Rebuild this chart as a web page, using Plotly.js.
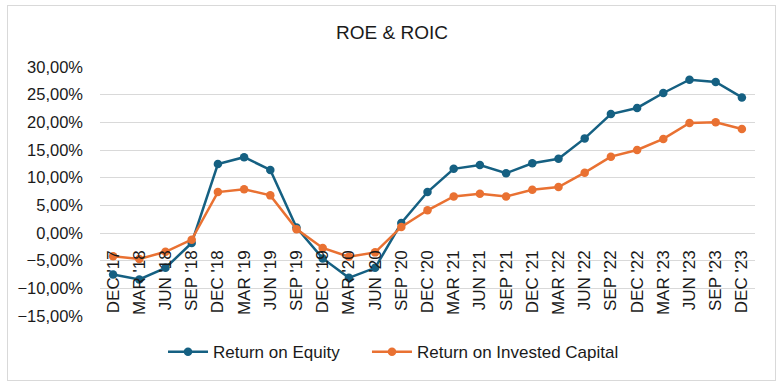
<!DOCTYPE html>
<html>
<head>
<meta charset="utf-8">
<script src="https://cdn.plot.ly/plotly-3.0.1.min.js"></script>
<style>
  html, body { margin: 0; padding: 0; background: #ffffff; }
  #frame { position: absolute; left: 7px; top: 5px; width: 767px; height: 374px; border: 1px solid #d9d9d9; }
  #chart { position: absolute; left: 0; top: 0; width: 784px; height: 385px; }
</style>
</head>
<body>
<div id="frame"></div>
<div id="chart"></div>
<script>
const quarters = ["DEC '17","MAR '18","JUN '18","SEP '18","DEC '18","MAR '19","JUN '19","SEP '19","DEC '19","MAR '20","JUN '20","SEP '20","DEC '20","MAR '21","JUN '21","SEP '21","DEC '21","MAR '22","JUN '22","SEP '22","DEC '22","MAR '23","JUN '23","SEP '23","DEC '23"];
const roe = [-7.5,-8.4,-6.3,-1.8,12.45,13.7,11.4,1.0,-4.6,-8.1,-6.3,1.8,7.4,11.6,12.3,10.8,12.6,13.4,17.1,21.5,22.6,25.3,27.7,27.3,24.5];
const roic = [-4.2,-4.7,-3.4,-1.2,7.4,7.9,6.8,0.7,-2.7,-4.3,-3.5,1.1,4.1,6.6,7.1,6.6,7.8,8.3,10.9,13.8,15.0,17.0,19.9,20.0,18.8];
const seriesNames = ["Return on Equity","Return on Invested Capital"];
const colors = ["#156082","#E97132"];
const legendIds = ["legend","legend2"];

const font = "Liberation Sans, Arial, sans-serif";
const textColor = "#1a1a1a";
const traces = [roe, roic].map((vals, i) => ({
  x: quarters, y: vals, name: seriesNames[i], type: "scatter", mode: "lines+markers",
  line: {color: colors[i], width: 2.5},
  marker: {color: colors[i], size: 8.5},
  legend: legendIds[i],
  cliponaxis: false
}));

const yMin = -15, yMax = 30;
const legendBase = {orientation: "h", xanchor: "left", y: -0.145, yanchor: "middle",
                    font: {family: font, size: 17, color: textColor}, itemwidth: 40};
const layout = {
  width: 784, height: 385,
  paper_bgcolor: "rgba(0,0,0,0)", plot_bgcolor: "rgba(0,0,0,0)",
  margin: {l: 100, r: 29, t: 67, b: 69},
  separators: ",.",
  font: {family: font, size: 16, color: textColor},
  title: {text: "ROE & ROIC", x: 0.5, xanchor: "center", xref: "container", y: 0.915, yref: "container", yanchor: "middle",
          font: {family: font, size: 19, color: textColor}},
  xaxis: {type: "category", anchor: "free", position: (0 - yMin) / (yMax - yMin),
          showline: false, showgrid: false, zeroline: false, tickangle: -90, ticks: "",
          ticklabelstandoff: 13,
          tickfont: {family: font, size: 17, color: textColor}, range: [-0.5, quarters.length - 0.5]},
  yaxis: {range: [yMin, yMax], dtick: 5, tick0: 0, tickformat: ".2f", ticksuffix: "%",
          showgrid: true, gridcolor: "#d9d9d9", gridwidth: 1, zeroline: false, showline: false,
          ticks: "", ticklabelstandoff: 16, tickfont: {family: font, size: 16.5, color: textColor}},
  showlegend: true,
  legend: Object.assign({}, legendBase, {x: 0.0962}),
  legend2: Object.assign({}, legendBase, {x: 0.4076})
};
Plotly.newPlot("chart", traces, layout, {displayModeBar: false, staticPlot: true});
</script>
</body>
</html>
